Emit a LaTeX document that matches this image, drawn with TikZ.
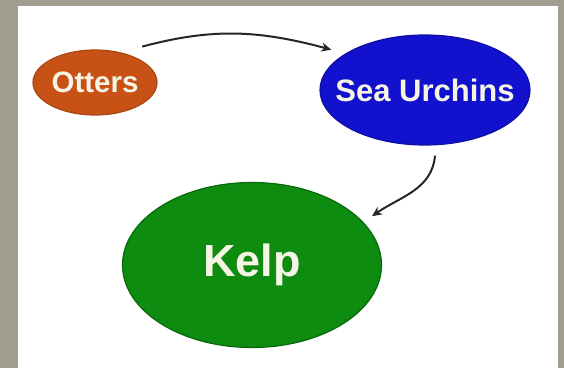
\documentclass[tikz,border=0pt]{standalone}
\usepackage{fontspec}
\setmainfont{Liberation Sans}
\usetikzlibrary{shapes.geometric,arrows.meta}
\definecolor{frame}{RGB}{161,158,143}
\definecolor{otterfill}{RGB}{200,82,22}
\definecolor{urchinfill}{RGB}{18,18,206}
\definecolor{kelpfill}{RGB}{14,140,16}
\definecolor{labeltext}{RGB}{246,244,228}
\begin{document}
\begin{tikzpicture}[x=1pt, y=1pt,
  blob/.style={ellipse,draw,line width=1.2pt,inner sep=0pt,text=labeltext,font=\bfseries},
  link/.style={-{Stealth[length=10pt,width=9pt]},line width=2pt,black!85}]
\fill[frame] (0,0) rectangle (564,368);
\fill[white] (18,0) rectangle (558,362);
\node[blob,fill=otterfill,draw=otterfill!85!black,minimum width=124pt,minimum height=65pt,
  inner xsep=-4pt,font=\bfseries\fontsize{29.5}{29.5}\selectfont] (otters) at (95,285.5) {Otters};
\node[blob,fill=urchinfill,draw=urchinfill!80!black,minimum width=210pt,minimum height=110pt,
  inner xsep=-18pt,font=\bfseries\fontsize{31}{31}\selectfont] (urchins) at (425,278) {Sea Urchins};
\node[blob,fill=kelpfill,draw=kelpfill!75!black,minimum width=259pt,minimum height=165pt,
  font=\bfseries\fontsize{45}{45}\selectfont] (kelp) at (252,103) {Kelp};
% who eats whom
\draw[link] ([shift={(3,12.5)}]otters.north east) to[out=15,in=165] ([shift={(-19,1)}]urchins.north west);
\draw[link] ([shift={(10,-10)}]urchins.south) to[out=-95,in=35] ([shift={(28,-10)}]kelp.north east);
\end{tikzpicture}
\end{document}
